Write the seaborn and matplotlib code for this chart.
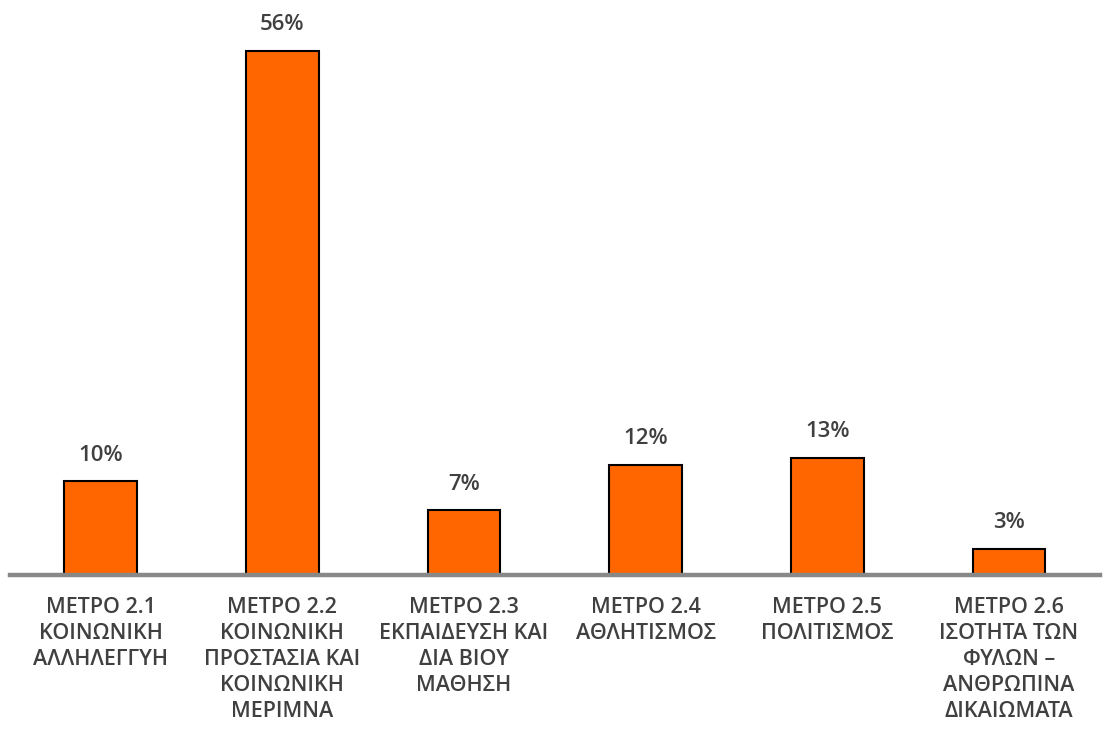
import matplotlib
matplotlib.use("Agg")
import matplotlib.pyplot as plt
import seaborn as sns
import pandas as pd

# data
categories = [
    "ΜΕΤΡΟ 2.1\nΚΟΙΝΩΝΙΚΗ\nΑΛΛΗΛΕΓΓΥΗ",
    "ΜΕΤΡΟ 2.2\nΚΟΙΝΩΝΙΚΗ\nΠΡΟΣΤΑΣΙΑ ΚΑΙ\nΚΟΙΝΩΝΙΚΗ\nΜΕΡΙΜΝΑ",
    "ΜΕΤΡΟ 2.3\nΕΚΠΑΙΔΕΥΣΗ ΚΑΙ\nΔΙΑ ΒΙΟΥ\nΜΑΘΗΣΗ",
    "ΜΕΤΡΟ 2.4\nΑΘΛΗΤΙΣΜΟΣ",
    "ΜΕΤΡΟ 2.5\nΠΟΛΙΤΙΣΜΟΣ",
    "ΜΕΤΡΟ 2.6\nΙΣΟΤΗΤΑ ΤΩΝ\nΦΥΛΩΝ –\nΑΝΘΡΩΠΙΝΑ\nΔΙΚΑΙΩΜΑΤΑ",
]
shares = [10.0, 56.0, 6.9, 11.8, 12.5, 2.8]
share_labels = ["10%", "56%", "7%", "12%", "13%", "3%"]

df = pd.DataFrame({"measure": categories, "share": shares})

sns.set_style("white")
plt.rcParams["font.family"] = ["Open Sans", "DejaVu Sans"]

fig = plt.figure(figsize=(11.03, 7.33), dpi=100)
ax = fig.add_axes([0.009, 0.2156, 0.988, 0.7708])

sns.barplot(data=df, x="measure", y="share", color="#FF6600", width=0.4,
            edgecolor="black", linewidth=1.5, saturation=1, ax=ax)

for i, (v, lab) in enumerate(zip(shares, share_labels)):
    ax.annotate(lab, (i, v), xytext=(0, 19), textcoords="offset points",
                ha="center", va="center", fontsize=16, fontweight="semibold",
                color="#404040")

ax.set_xlim(-0.5, 5.5)
ax.set_ylim(0, 60.4)
ax.set_xlabel("")
ax.set_ylabel("")
ax.set_yticks([])
ax.tick_params(axis="x", length=0, pad=16)
ax.set_xticks(range(len(categories)))
ax.set_xticklabels(categories, fontsize=15.5, fontweight="semibold",
                   color="#404040", linespacing=1.31, va="top")

for s in ["top", "left", "right"]:
    ax.spines[s].set_visible(False)
ax.spines["bottom"].set_color("#888888")
ax.spines["bottom"].set_linewidth(3.2)
ax.set_zorder(1)

fig.savefig("out.png", dpi=100)
